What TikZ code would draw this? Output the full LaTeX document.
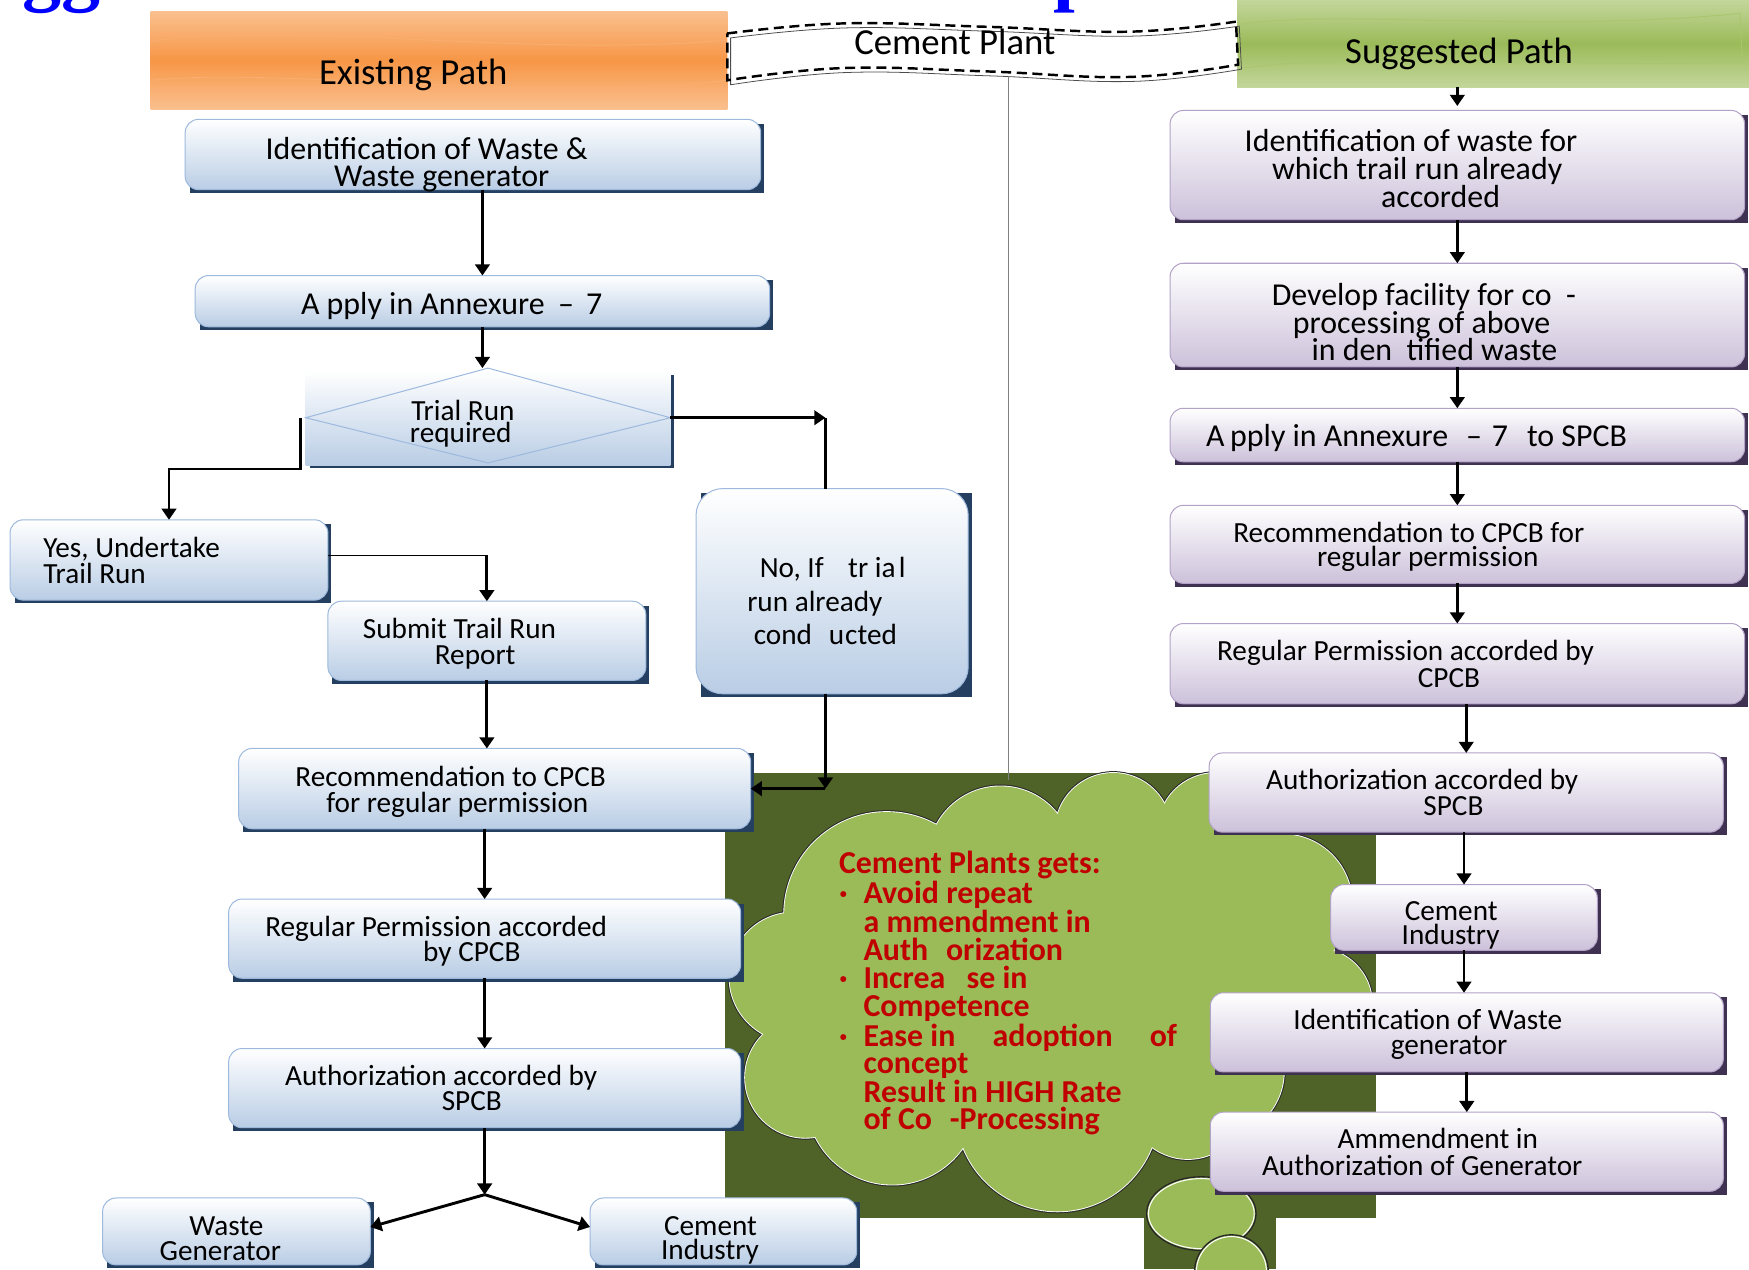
\documentclass[tikz,border=0pt]{standalone}
\usepackage{fontspec}
\setmainfont{Carlito}
\newfontfamily\titlefont{Liberation Serif}
\usetikzlibrary{arrows.meta}
\definecolor{lblue}{HTML}{B9CDE5}
\definecolor{lbord}{HTML}{9DB9DD}
\definecolor{navy}{HTML}{243F60}
\definecolor{rpurp}{HTML}{CCC1DA}
\definecolor{rbord}{HTML}{B3A2C7}
\definecolor{rshad}{HTML}{3F3151}
\definecolor{orng}{HTML}{F79646}
\definecolor{lorng}{HTML}{FAC08F}
\definecolor{worng}{HTML}{F9AE70}
\definecolor{grn}{HTML}{9BBB59}
\definecolor{lgrn}{HTML}{C3D69B}
\definecolor{wgrn}{HTML}{A9C56E}
\definecolor{dgrn}{HTML}{4F6228}
\definecolor{cred}{HTML}{C00000}
\definecolor{tblue}{HTML}{0000FF}
\newcommand\bodyfont{\fontsize{26.2pt}{24pt}\selectfont}
\newcommand\bigfont{\fontsize{28.6pt}{25pt}\selectfont}
\newcommand\headfont{\fontsize{32.9pt}{34pt}\selectfont}
\newcommand\cloudfont{\fontsize{28.6pt}{25.6pt}\selectfont\bfseries}
\newcommand\mkbox[7][]{%
  \fill[#2sh] ({#4+4},{#5+4}) rectangle ({#6+3},{#7+3});
  \node[#2box, minimum width={#6-#4}, minimum height={#7-#5}, #1] (#3) at ({(#4+#6)/2},{(#5+#7)/2}) {};}
\newcommand\tx[5][]{\node[txt,#1] (#2) at (#3,#4) {#5};}
\begin{document}
\begin{tikzpicture}[x=1pt,y=-1pt,
  lbox/.style={draw=lbord, line width=0.9pt, rounded corners=12pt, top color=white, bottom color=lblue, inner sep=0pt, outer sep=0pt},
  rbox/.style={draw=rbord, line width=0.9pt, rounded corners=12pt, top color=white, bottom color=rpurp, inner sep=0pt, outer sep=0pt},
  lsh/.style={fill=navy}, rsh/.style={fill=rshad},
  txt/.style={font=\bodyfont, inner sep=0pt, anchor=base},
  btxt/.style={font=\bigfont},
  htxt/.style={font=\headfont, inner sep=0pt, anchor=base},
  ctxt/.style={font=\cloudfont, text=cred, inner sep=0pt, anchor=base west},
  arr/.style={line width=2.6pt, -{Triangle[width=13pt,length=10pt]}},
  ln/.style={line width=2.6pt},
  cl/.style={black!85, line width=3.4pt}]
\useasboundingbox (0,0) rectangle (1568,1138);
% cut title fragments
\node[font=\titlefont\bfseries\fontsize{70pt}{70pt}\selectfont, text=tblue, anchor=base west, inner sep=0pt] (tg) at (20,-3) {gg};
\node[font=\titlefont\bfseries\fontsize{70pt}{70pt}\selectfont, text=tblue, anchor=base west, inner sep=0pt] (tp) at (944,-3) {p};
% headers
\node[rectangle, inner sep=0pt, minimum width=517, minimum height=88, top color=lorng, bottom color=lorng, middle color=orng] (OH) at (393.5,54) {};
\draw[worng, line width=0.8pt] (135,37) .. controls (260,18) and (470,52) .. (652,36);
\draw[worng, line width=0.8pt] (135,72) .. controls (250,60) and (480,92) .. (652,72);
\node[rectangle, inner sep=0pt, minimum width=459, minimum height=78, top color=lgrn, bottom color=lgrn, middle color=grn] (GH) at (1338.5,39) {};
\draw[wgrn, line width=0.8pt] (1110,22) .. controls (1200,8) and (1380,30) .. (1560,12) -- (1562,55) .. controls (1420,62) and (1250,44) .. (1113,61);
\tx[htxt]{OHt}{370.5}{76}{Existing Path}
\tx[htxt]{GHt}{1308}{57}{Suggested Path}
% cement plant banner
\fill[white] plot[smooth,tension=0.7] coordinates {(652,30) (756,21) (884,24) (1012,28.4) (1108,19.4)} -- plot[smooth,tension=0.7] coordinates {(1110,58) (1012,69) (884,64) (756,61) (652,72)} -- cycle;
\draw[black!70, line width=0.7pt, shift={(3,4)}] plot[smooth,tension=0.7] coordinates {(652,30) (756,21) (884,24) (1012,28.4) (1108,19.4)} -- plot[smooth,tension=0.7] coordinates {(1110,58) (1012,69) (884,64) (756,61) (652,72)} -- cycle;
\draw[line width=2.2pt, dash pattern=on 9pt off 5pt] plot[smooth,tension=0.7] coordinates {(652,30) (756,21) (884,24) (1012,28.4) (1108,19.4)} -- plot[smooth,tension=0.7] coordinates {(1110,58) (1012,69) (884,64) (756,61) (652,72)} -- cycle;
\tx[htxt]{CPt}{856}{49}{Cement Plant}
% dark green panel
\fill[dgrn] (650,693) rectangle (1234,1092);
\fill[dgrn] (1026,1090) rectangle (1144,1138);
\coordinate (gl1) at (904,68);
\coordinate (gl2) at (904,699);
\draw[black!50, line width=1pt] (gl1) -- (gl2);
% cloud
\foreach \x/\y/\r in {722/966/54, 712/876/58, 795/820/92, 897/770/65, 998/745/52, 1090/745/52, 1150/810/62, 1180/900/50, 1090/960/61, 1065/985/54, 948/995/91, 800/985/77}
  \draw[cl] (\x,\y) circle[radius=\r pt];
\foreach \x/\y/\r in {722/966/54, 712/876/58, 795/820/92, 897/770/65, 998/745/52, 1090/745/52, 1150/810/62, 1180/900/50, 1090/960/61, 1065/985/54, 948/995/91, 800/985/77}
  \draw[white, line width=1.6pt] (\x,\y) circle[radius=\r pt];
\fill[grn] (722,966) -- (712,876) -- (795,820) -- (897,770) -- (998,745) -- (1090,745) -- (1150,810) -- (1180,900) -- (1090,960) -- (1065,985) -- (948,995) -- (800,985) -- cycle;
\foreach \x/\y/\r in {722/966/54, 712/876/58, 795/820/92, 897/770/65, 998/745/52, 1090/745/52, 1150/810/62, 1180/900/50, 1090/960/61, 1065/985/54, 948/995/91, 800/985/77}
  \fill[grn] (\x,\y) circle[radius=\r pt];
\draw[black!85, line width=1.2pt, fill=grn] (1077,1088) ellipse[x radius=49pt, y radius=33pt];
\draw[white, line width=0.9pt] (1077,1088) ellipse[x radius=47.4pt, y radius=31.4pt];
\draw[black!85, line width=1.2pt, fill=grn] (1104,1140) circle[radius=33pt];
\draw[white, line width=0.9pt] (1104,1140) circle[radius=31.4pt];
% cloud text
\node[ctxt] (c1) at (752,783) {Cement Plants gets:};
\node[ctxt] (b1) at (752,810) {·};
\node[ctxt] (c2) at (774,810) {Avoid repeat};
\node[ctxt] (c3) at (774,835.6) {a mmendment in};
\node[ctxt] (c4) at (774,861) {Auth\hspace{16pt}orization};
\node[ctxt] (b2) at (752,886) {·};
\node[ctxt] (c5) at (774,886) {Increa\hspace{19pt}se in};
\node[ctxt] (c6) at (774,911.6) {Competence};
\node[ctxt] (b3) at (752,938.5) {·};
\node[ctxt] (c7) at (774,938.5) {\makebox[281pt][l]{Ease in\hfill adoption\hfill of}};
\node[ctxt] (c8) at (774,962) {concept};
\node[ctxt] (c9) at (774,988) {Result in HIGH Rate};
\node[ctxt] (c10) at (774,1013) {of Co\hspace{16pt}-Processing};
% left boxes
\mkbox{l}{L1}{166}{107}{682}{170}
\mkbox{l}{L2}{175}{247}{690}{293}
\mkbox[draw=none,sharp corners]{l}{D}{274}{332}{601}{417}
\draw[lbord, line width=0.9pt] ([yshift=2pt]D.north) -- (D.west) -- ([yshift=2pt]D.south) -- (D.east) -- cycle;
\coordinate (dn) at ([yshift=2pt]D.north);
\mkbox{l}{Y}{9}{466}{294}{538}
\mkbox{l}{S}{294}{539}{579}{610}
\mkbox[rounded corners=24pt]{l}{N}{624}{438}{868}{622}
\mkbox{l}{RC}{214}{671}{673}{743}
\mkbox{l}{RG}{205}{806}{664}{877}
\mkbox{l}{AU}{205}{940}{664}{1011}
\mkbox{l}{WG}{92}{1074}{332}{1134}
\mkbox{l}{CI}{529}{1074}{768}{1134}
% right boxes
\mkbox{r}{R1}{1049}{99}{1564}{197}
\mkbox{r}{R2}{1049}{236}{1564}{329}
\mkbox{r}{R3}{1049}{366}{1564}{414}
\mkbox{r}{R4}{1049}{453}{1564}{523}
\mkbox{r}{R5}{1049}{559}{1564}{631}
\mkbox{r}{R6}{1084}{675}{1545}{746}
\mkbox{r}{R7}{1193}{793}{1432}{852}
\mkbox{r}{R8}{1085}{890}{1545}{961}
\mkbox{r}{R9}{1085}{997}{1545}{1068}
% left texts
\tx[btxt]{L1a}{382.5}{143}{Identification of Waste \&}
\tx[btxt]{L1b}{396}{167.5}{Waste generator}
\tx[btxt]{L2a}{405}{282}{A pply in Annexure\hspace{12pt}–\hspace{11pt}7}
\tx{Da}{415}{377}{Trial Run}
\tx{Db}{413}{397}{required}
\tx[anchor=base west]{Ya}{38.6}{500}{Yes, Undertake}
\tx[anchor=base west]{Yb}{38.6}{523}{Trail Run}
\tx{Sa}{412}{572}{Submit Trail Run}
\tx{Sb}{426}{596}{Report}
\tx{Na}{746.5}{518}{No, If\hspace{22pt}tr ia\hspace{3pt}l}
\tx{Nb}{730.5}{548.5}{run already}
\tx{Nc}{740}{578}{cond\hspace{15pt}u\hspace{1pt}cted}
\tx{Ca}{404}{705.4}{Recommendation to CPCB}
\tx{Cb}{410}{728}{for regular permission}
\tx{Ga}{391}{840}{Regular Permission accorded}
\tx{Gb}{423}{862}{by CPCB}
\tx{Aa}{395.5}{973}{Authorization accorded by}
\tx{Ab}{423}{996}{SPCB}
\tx{Wa}{203}{1108}{Waste}
\tx{Wb}{197.5}{1130}{Generator}
\tx{Ia}{637}{1108}{Cement}
\tx{Ib}{636.5}{1129}{Industry}
% right texts
\tx[btxt]{R1a}{1265}{136}{Identification of waste for}
\tx[btxt]{R1b}{1270.5}{161}{which trail run already}
\tx[btxt]{R1c}{1291.5}{186}{accorded}
\tx[btxt]{R2a}{1276.5}{273.5}{Develop facility for co\hspace{13pt}-}
\tx[btxt]{R2b}{1274.5}{299}{processing of above}
\tx[btxt]{R2c}{1286}{323.5}{in den\hspace{13pt}tified waste}
\tx[btxt]{R3a}{1270}{400.5}{A\hspace{5pt}pply in Annexure\hspace{16pt}–\hspace{9pt}7\hspace{17pt}to SPCB}
\tx{R4a}{1263}{486}{Recommendation to CPCB for}
\tx{R4b}{1280}{508}{regular permission}
\tx{R5a}{1260}{592}{Regular Permission accorded by}
\tx{R5b}{1299}{616}{CPCB}
\tx{R6a}{1275}{707.5}{Authorization accorded by}
\tx{R6b}{1303}{731}{SPCB}
\tx{R7a}{1301}{825.5}{Cement}
\tx{R7b}{1300.5}{847}{Industry}
\tx{R8a}{1280}{922.6}{Identification of Waste}
\tx{R8b}{1299}{945}{generator}
\tx{R9a}{1289}{1030}{Ammendment in}
\tx{R9b}{1275}{1053.5}{Authorization of Generator}
% left connectors
\draw[arr] (L1.south -| L2.north) -- (L2.north);
\draw[arr] (L2.south) -- (L2.south |- dn);
\draw[arr] ([xshift=-5pt]D.west) -- ++(0,46) -| (Y.north);
\coordinate (nt) at ([xshift=-6pt]N.north);
\draw[arr] (D.east) -- (D.east -| nt);
\draw[ln] (D.east -| nt) -- (nt);
\coordinate (ye) at ([yshift=4pt]Y.east);
\draw[line width=1.3pt] (ye) -- (ye -| S.north);
\draw[arr] (ye -| S.north) -- (S.north);
\draw[arr] (S.south) -- (S.south |- RC.north);
\coordinate (nb) at ([xshift=-6pt]N.south);
\draw[arr] (nb) -- (nb |- RC.east);
\draw[arr] (nb |- RC.east) -- (RC.east);
\draw[arr] (RC.south -| RG.north) -- (RG.north);
\draw[arr] (RG.south) -- (AU.north);
\coordinate (sp) at ([yshift=-60pt]AU.south);
\draw[arr] (AU.south) -- (sp);
\draw[arr] (sp) -- ([yshift=4pt]WG.east);
\draw[arr] (sp) -- ([yshift=4pt]CI.west);
% right connectors
\coordinate (r1n) at ([yshift=4pt]R1.north);
\draw[arr] (r1n |- GH.south) -- (r1n);
\draw[arr] (R1.south) -- (R2.north);
\draw[arr] (R2.south) -- (R3.north);
\draw[arr] (R3.south) -- (R4.north);
\draw[arr] (R4.south) -- (R5.north);
\draw[arr] (R5.south -| R6.north) -- (R6.north);
\draw[arr] (R6.south -| R7.north) -- (R7.north);
\draw[arr] (R7.south) -- (R7.south |- R8.north);
\draw[arr] (R8.south) -- (R9.north);
\end{tikzpicture}
\end{document}
